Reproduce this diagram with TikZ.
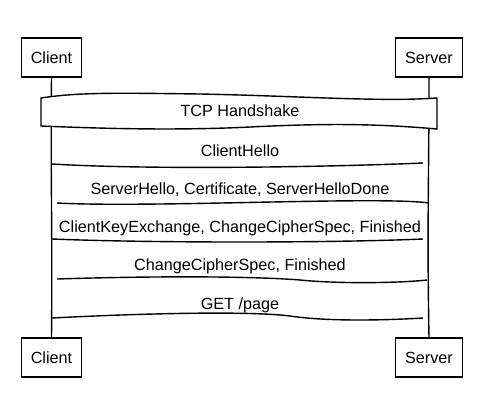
\documentclass[tikz,border=0pt]{standalone}
\usepackage{fontspec}
\setmainfont{Liberation Sans}
\usetikzlibrary{positioning}

\begin{document}
\begin{tikzpicture}[x=1pt,y=-1pt,
  actor/.style={draw,line width=1.4pt,fill=white,minimum height=39pt,inner xsep=9.5pt,font=\fontsize{16.2}{18}\selectfont},
  lifeline/.style={line width=1.4pt},
  msg/.style={line width=1.4pt},
  msglabel/.style={inner sep=0pt,text height=11.8pt,text depth=3.4pt,font=\fontsize{16.2}{18}\selectfont}
]
\useasboundingbox (0,0) rectangle (499,405);
\node[actor] (clientTop) at (51.5,57.5) {Client};
\node[actor] (serverTop) at (429,57.5) {Server};
\node[actor] (clientBot) at (51.5,357.5) {Client};
\node[actor] (serverBot) at (429,357.5) {Server};
\draw[lifeline] (clientTop.south) .. controls +(-1,100) and +(1,-110) .. (clientBot.north);
\draw[lifeline] (serverTop.south) .. controls +(0,100) and +(-2,-110) .. (serverBot.north);

% handshake band
\draw[line width=1.4pt,fill=white] (41,98) .. controls (80,92) and (120,93) .. (200,94)
  .. controls (300,96) and (380,102) .. (437,98) -- (437,129)
  .. controls (380,124) and (330,123) .. (250,127)
  .. controls (170,131) and (90,128) .. (41,126) -- cycle;
\node[msglabel] (tcp) at (240,112) {TCP Handshake};

% messages
\coordinate (m1a) at (52,164);  \coordinate (m1b) at (423,163);
\coordinate (m2a) at (57,203);  \coordinate (m2b) at (429,203);
\coordinate (m3a) at (52,239);  \coordinate (m3b) at (423,239);
\coordinate (m4a) at (57,279);  \coordinate (m4b) at (427,280);
\coordinate (m5a) at (52,318);  \coordinate (m5b) at (423,318);
\node[msglabel] (hello) at (240,152) {ClientHello};
\node[msglabel] (shello) at (240,190) {ServerHello, Certificate, ServerHelloDone};
\node[msglabel] (keyx) at (240,228) {ClientKeyExchange, ChangeCipherSpec, Finished};
\node[msglabel] (ccs) at (240,266) {ChangeCipherSpec, Finished};
\node[msglabel] (get) at (240,305) {GET /page};
\draw[msg] (m1a) .. controls (150,170) and (330,167) .. (m1b);
\draw[msg] (m2a) .. controls (150,208) and (380,196) .. (m2b);
\draw[msg] (m3a) .. controls (150,243) and (330,243) .. (m3b);
\draw[msg] (m4a) .. controls (150,276) and (250,276) .. (300,280) .. controls (340,284) and (400,283) .. (m4b);
\draw[msg] (m5a) .. controls (150,313) and (250,311) .. (290,316) .. controls (330,322) and (390,320) .. (m5b);
\end{tikzpicture}
\end{document}
